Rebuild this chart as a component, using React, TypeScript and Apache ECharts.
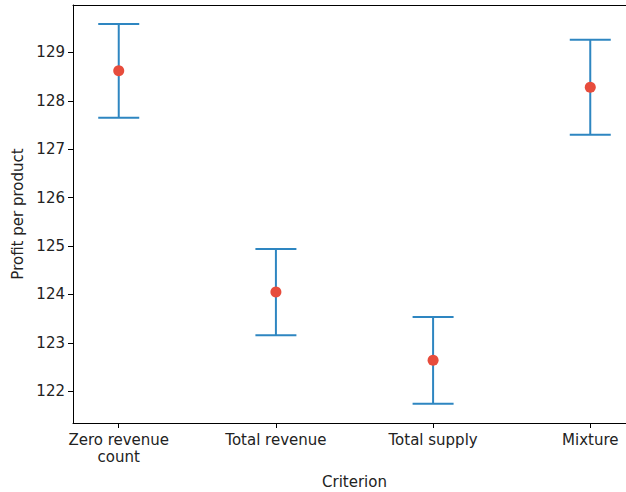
import React, { useEffect, useRef } from "react";
import * as echarts from "echarts";

// Criteria on the x axis, mean profit and half-width of the error bar for each
const categories = ["Zero revenue\ncount", "Total revenue", "Total supply", "Mixture"];
const means = [128.62, 124.05, 122.64, 128.28];
const errors = [0.97, 0.89, 0.895, 0.98];
const yTicks = [122, 123, 124, 125, 126, 127, 128, 129];
const xTicks = [0, 1, 2, 3];

const BLUE = "#2e86c1";
const RED = "#e74c3c";
const INK = "#222222";
const FONT = "DejaVu Sans";

// The canvas is a little wider than the window so the right edge of the plot sits just past it
const CHART_W = 640;
const CHART_H = 492;

export default function App() {
  const ref = useRef<HTMLDivElement>(null);

  useEffect(() => {
    if (!ref.current) return;
    const chart = echarts.init(ref.current, undefined, { renderer: "svg" });

    const barData = means.map((m, i) => [i, m - errors[i], m + errors[i]]);
    const pointData = means.map((m, i) => [i, m]);

    chart.setOption({
      animation: false,
      backgroundColor: "#ffffff",
      grid: {
        left: 73,
        top: 5,
        bottom: 69,
        width: 563,
        containLabel: false,
        outerBoundsMode: "none",
      },
      xAxis: [
        {
          type: "value",
          min: -0.291,
          max: 3.291,
          name: "Criterion",
          nameLocation: "middle",
          nameGap: 51,
          nameTextStyle: { color: INK, fontSize: 15, fontFamily: FONT },
          splitLine: { show: false },
          axisLine: { show: true, onZero: false, lineStyle: { color: "#000", width: 1 } },
          axisTick: {
            show: true,
            customValues: xTicks,
            length: 5,
            lineStyle: { color: "#000", width: 1 },
          },
          axisLabel: {
            customValues: xTicks,
            formatter: (v: number) => categories[Math.round(v)] ?? "",
            color: INK,
            fontSize: 15,
            fontFamily: FONT,
            margin: 8,
            lineHeight: 17.5,
          },
        },
        {
          type: "value",
          position: "top",
          min: -0.291,
          max: 3.291,
          splitLine: { show: false },
          axisLine: { show: true, onZero: false, lineStyle: { color: "#000", width: 1 } },
          axisTick: { show: false },
          axisLabel: { show: false },
        },
      ],
      yAxis: {
        type: "value",
        min: 121.345,
        max: 129.98,
        name: "Profit per product",
        nameLocation: "middle",
        nameGap: 46,
        nameTextStyle: { color: INK, fontSize: 15, fontFamily: FONT },
        splitLine: { show: false },
        axisLine: { show: true, onZero: false, lineStyle: { color: "#000", width: 1 } },
        axisTick: {
          show: true,
          customValues: yTicks,
          length: 5,
          lineStyle: { color: "#000", width: 1 },
        },
        axisLabel: {
          customValues: yTicks,
          color: INK,
          fontSize: 15,
          fontFamily: FONT,
          margin: 8,
        },
      },
      series: [
        {
          type: "custom",
          xAxisIndex: 0,
          data: barData,
          z: 2,
          renderItem: (params: any, api: any) => {
            const x = api.value(0);
            const top = api.coord([x, api.value(2)]);
            const bot = api.coord([x, api.value(1)]);
            const half = 20.5;
            const style = { stroke: BLUE, lineWidth: 2 };
            return {
              type: "group",
              children: [
                { type: "line", shape: { x1: top[0], y1: top[1], x2: bot[0], y2: bot[1] }, style },
                { type: "line", shape: { x1: top[0] - half, y1: top[1], x2: top[0] + half, y2: top[1] }, style },
                { type: "line", shape: { x1: bot[0] - half, y1: bot[1], x2: bot[0] + half, y2: bot[1] }, style },
              ],
            };
          },
        },
        {
          type: "scatter",
          xAxisIndex: 0,
          data: pointData,
          symbol: "circle",
          symbolSize: 11,
          itemStyle: { color: RED, opacity: 1 },
          z: 3,
        },
      ],
    });

    return () => chart.dispose();
  }, []);

  return (
    <div
      ref={ref}
      style={{ position: "fixed", left: 0, top: 0, width: CHART_W, height: CHART_H }}
    />
  );
}
